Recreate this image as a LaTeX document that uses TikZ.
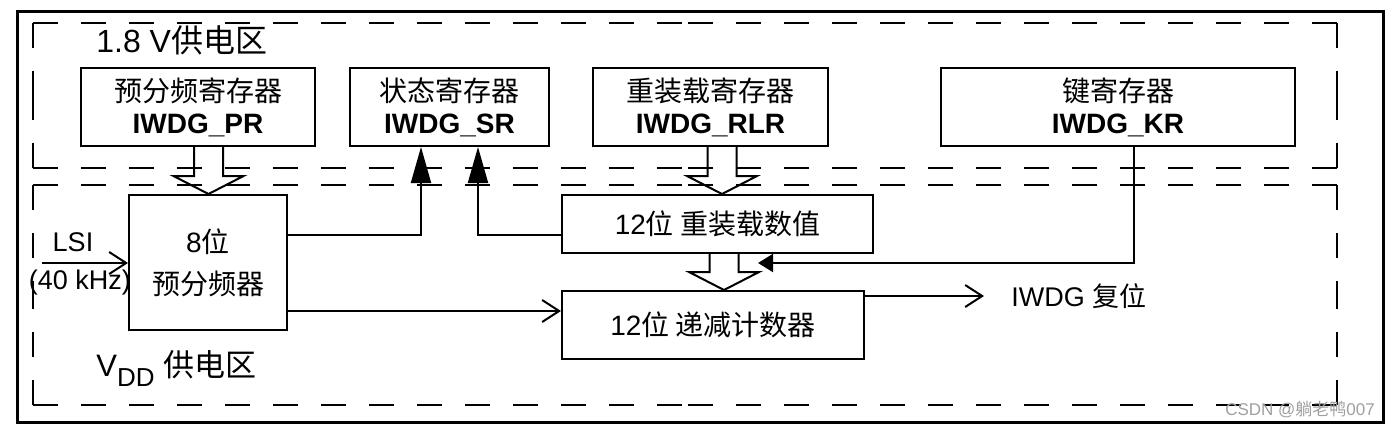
\documentclass[tikz,border=0pt]{standalone}
\usepackage{fontspec}
\setmainfont{Liberation Sans}
\newfontfamily\zh{Noto Sans CJK SC}
\usetikzlibrary{arrows.meta,calc}

\tikzset{
  box/.style={draw, line width=1pt, inner sep=0pt, align=center, font=\fontsize{14}{16}\selectfont},
  region/.style={line width=1pt, dash pattern=on 12.5pt off 11.5pt},
  wire/.style={line width=1pt},
  label/.style={inner sep=0pt, font=\fontsize{13.5}{16}\selectfont},
}
% hollow arrow: x position, upper node, lower node
\newcommand{\blockarrow}[3]{%
  \draw[wire] ($(#1 |- #2.south)+(-14.5,0)$) -- ($(#1 |- #3.north)+(-14.5,-18)$)
    -- ++(-20.5,0) -- (#1 |- #3.north) -- ($(#1 |- #3.north)+(35,-18)$) -- ++(-20.5,0)
    -- ($(#1 |- #2.south)+(14.5,0)$);
}

\begin{document}
\begin{tikzpicture}[x=0.5pt,y=-0.5pt]
\useasboundingbox (0,0) rectangle (1391,429);
\draw[line width=1.5pt] (17,11) rectangle (1383,422); % outer frame

% the two supply regions, dashes start at every corner
\coordinate (hiA) at (33,23);  \coordinate (hiB) at (1337,23);
\coordinate (hiC) at (1337,168); \coordinate (hiD) at (33,168);
\coordinate (loA) at (33,185);  \coordinate (loB) at (1337,185);
\coordinate (loC) at (1337,405); \coordinate (loD) at (33,405);
\foreach \r in {hi,lo}
\foreach \a/\b in {A/B,B/C,C/D,D/A} {
  \draw[region] (\r\a) -- ($(\r\a)!0.5!(\r\b)$);
  \draw[region] (\r\b) -- ($(\r\a)!0.5!(\r\b)$);
}
\node[anchor=base west, inner sep=0pt, font=\fontsize{16}{18}\selectfont] (hititle) at (96,52) {1.8 V{\zh 供电区}};
\node[anchor=base west, inner sep=0pt, font=\fontsize{15.5}{18}\selectfont] (lotitle) at (96,376)
  {V\raisebox{-5pt}{\fontsize{13}{14}\selectfont DD} {\zh 供电区}};

% registers
\node[box, minimum width=117pt, minimum height=39pt] (pr) at (198,107) {{\zh 预分频寄存器}\\\textbf{IWDG\_PR}};
\node[box, minimum width=99.5pt, minimum height=39pt] (sr) at (449.5,107) {{\zh 状态寄存器}\\\textbf{IWDG\_SR}};
\node[box, minimum width=117.5pt, minimum height=39pt] (rlr) at (710.5,107) {{\zh 重装载寄存器}\\\textbf{IWDG\_RLR}};
\node[box, minimum width=177pt, minimum height=39pt] (kr) at (1118,107) {{\zh 键寄存器}\\\textbf{IWDG\_KR}};

% counter part
\node[box, minimum width=79pt, minimum height=67.5pt, font=\fontsize{14}{21}\selectfont] (div) at (208,262.5) {8{\zh 位}\\{\zh 预分频器}};
\node[box, minimum width=155.5pt, minimum height=29pt] (rld) at (717.5,224) {12{\zh 位 重装载数值}};
\node[box, minimum width=151pt, minimum height=34pt] (cnt) at (713,325) {12{\zh 位 递减计数器}};
\node[label, anchor=west] (rst) at (1011,296) {IWDG {\zh 复位}};

% hollow arrows
\coordinate (xpr) at (208.5,0);
\coordinate (xrl) at (722,0);
\coordinate (xrd) at (724,0);
\blockarrow{xpr}{pr}{div}
\blockarrow{xrl}{rlr}{rld}
\blockarrow{xrd}{rld}{cnt}

% status lines
\draw[wire, -{Triangle[length=18pt,width=10pt]}] ([yshift=13.75pt]div.east) -| ([xshift=-14.25pt]sr.south);
\draw[wire, -{Triangle[length=18pt,width=10pt]}] ([yshift=-5.5pt]rld.west) -| ([xshift=14.25pt]sr.south);
\coordinate (krin) at (758,263);
\draw[wire, -{Triangle[length=7.5pt,width=9pt]}] ([xshift=8pt]kr.south) |- (krin);

% clock in, count, reset out
\coordinate (lsi) at (42,263);
\node[label] (lsitext) at (73,242) {LSI};
\node[label] (lsifreq) at (80,283) {(40 kHz)};
\draw[wire, -{Straight Barb[length=8.5pt,width=11pt]}] (lsi) -- (lsi -| div.west);
\coordinate (divout) at ([yshift=-24.25pt]div.east);
\draw[wire, -{Straight Barb[length=8.5pt,width=11pt]}] (divout) -- (divout -| cnt.west);
\coordinate (cntout) at ([yshift=14.5pt]cnt.east);
\draw[wire, -{Straight Barb[length=8.5pt,width=11pt]}] (cntout) -- ([xshift=-13.5pt]rst.west);

\node[text=gray!75, inner sep=0pt, font=\fontsize{8.5}{10}\selectfont] (mark) at (1300,410) {CSDN @{\zh 躺老鸭}007};
\end{tikzpicture}
\end{document}
